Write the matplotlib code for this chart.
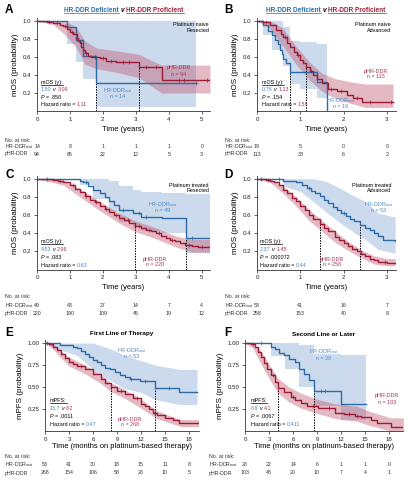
import matplotlib
matplotlib.use('Agg')
import matplotlib.pyplot as plt
import matplotlib.transforms as mtransforms
from matplotlib.lines import Line2D
from matplotlib import font_manager
import numpy as np

names = {f.name for f in font_manager.fontManager.ttflist}
if 'Liberation Sans Narrow' in names:
    FONT, K = 'Liberation Sans Narrow', 1.2
else:
    FONT, K = 'Liberation Sans', 1.0
plt.rcParams['font.family'] = [FONT, 'DejaVu Sans']
plt.rcParams['mathtext.fontset'] = 'custom'
plt.rcParams['mathtext.rm'] = FONT
plt.rcParams['mathtext.it'] = FONT + ':italic'
plt.rcParams['mathtext.bf'] = FONT + ':bold'

# ------------------------------------------------------------------ data
# Panel A (platinum naive, resected) - years
A_hr_t = [0, 0.92, 1.18, 1.40, 1.80, 4.84]
A_hr_s = [1.0, 0.93, 0.79, 0.61, 0.31, 0.31]
A_hr_band_t = [0, 0.92, 1.18, 1.40, 1.80, 4.84]
A_hr_band_lo = [1.0, 0.75, 0.55, 0.36, 0.04, 0.04]
A_hr_band_hi = [1.0, 1.0, 1.0, 1.0, 1.0, 1.0]
A_p_t = [0, 0.3, 0.5, 0.7, 0.8, 0.92, 1.0, 1.1, 1.2, 1.25, 1.3, 1.35, 1.4, 1.45,
         1.55, 1.65, 1.9, 2.1, 2.4, 3.09, 3.78, 5.25]
A_p_s = [1.0, 0.99, 0.98, 0.96, 0.94, 0.91, 0.88, 0.85, 0.81, 0.78, 0.75, 0.71, 0.68,
         0.64, 0.61, 0.60, 0.585, 0.56, 0.54, 0.49, 0.345, 0.345]
A_p_band_t = [0, 0.5, 0.9, 1.2, 1.45, 1.8, 2.4, 3.09, 3.78, 5.25]
A_p_band_hi = [1.0, 1.0, 0.99, 0.93, 0.78, 0.70, 0.67, 0.63, 0.51, 0.51]
A_p_band_lo = [1.0, 0.96, 0.83, 0.70, 0.52, 0.47, 0.43, 0.37, 0.20, 0.20]
A_hr_cens = [4.84]
A_p_cens = [0.35, 0.6, 0.85, 1.05, 1.22, 1.33, 1.5, 1.75, 2.0, 2.25, 2.6, 2.8, 3.3,
            3.6, 4.3, 4.45, 5.15]
A_med = [1.80, 3.09]
A_risk_x = [0, 1, 2, 3, 4, 5]
A_risk_hr = [14, 8, 1, 1, 1, 0]
A_risk_p = [94, 65, 22, 12, 5, 3]

# Panel B (platinum naive, advanced)
B_hr_t = [0, 0.13, 0.26, 0.34, 0.42, 0.48, 0.52, 0.57, 0.61, 0.67, 0.76, 1.38, 1.62]
B_hr_s = [1.0, 0.95, 0.89, 0.84, 0.79, 0.74, 0.68, 0.63, 0.58, 0.53, 0.43, 0.32, 0.0]
B_hr_band_t = [0, 0.13, 0.35, 0.6, 0.76, 1.0, 1.38, 1.62]
B_hr_band_hi = [1.0, 1.0, 1.0, 0.93, 0.78, 0.77, 0.74, 0.74]
B_hr_band_lo = [1.0, 0.85, 0.68, 0.50, 0.30, 0.25, 0.15, 0.15]
B_p_t = [0, 0.14, 0.30, 0.45, 0.55, 0.61, 0.70, 0.76, 0.85, 0.92, 1.0, 1.07, 1.13,
         1.22, 1.30, 1.38, 1.49, 1.65, 1.84, 2.07, 2.22, 2.42, 3.14]
B_p_s = [1.0, 0.99, 0.96, 0.90, 0.86, 0.82, 0.76, 0.71, 0.66, 0.62, 0.57, 0.53, 0.49,
         0.44, 0.40, 0.36, 0.31, 0.24, 0.22, 0.18, 0.15, 0.10, 0.10]
B_p_band_t = [0, 0.3, 0.6, 0.9, 1.2, 1.5, 1.8, 2.2, 2.5, 3.14]
B_p_band_hi = [1.0, 1.0, 0.92, 0.72, 0.55, 0.42, 0.36, 0.32, 0.30, 0.30]
B_p_band_lo = [1.0, 0.92, 0.72, 0.52, 0.35, 0.22, 0.14, 0.08, 0.04, 0.04]
B_hr_cens = []
B_p_cens = [0.2, 0.65, 0.95, 1.25, 1.7, 1.95, 2.3, 2.6, 3.1]
B_med = [0.76, 1.13]
B_risk_x = [0, 1, 2, 3]
B_risk_hr = [19, 5, 0, 0]
B_risk_p = [113, 33, 6, 2]

# Panel C (platinum treated, resected)
C_hr_t = [0, 1.30, 1.40, 1.55, 1.71, 1.91, 2.05, 2.2, 2.35, 2.5, 2.9, 3.17, 3.78, 4.53, 5.24]
C_hr_s = [1.0, 0.98, 0.96, 0.92, 0.88, 0.84, 0.80, 0.76, 0.71, 0.66, 0.62, 0.58, 0.57, 0.35, 0.35]
C_hr_band_t = [0, 1.3, 1.7, 2.2, 2.5, 2.9, 3.17, 3.78, 4.53, 5.24]
C_hr_band_hi = [1.0, 1.0, 1.0, 0.97, 0.92, 0.88, 0.85, 0.84, 0.83, 0.83]
C_hr_band_lo = [1.0, 0.93, 0.78, 0.63, 0.52, 0.47, 0.42, 0.40, 0.18, 0.18]
C_p_t = [0, 0.5, 0.65, 0.8, 1.0, 1.15, 1.3, 1.45, 1.6, 1.75, 1.9, 2.05, 2.2, 2.35, 2.5,
         2.65, 2.8, 2.96, 3.15, 3.3, 3.45, 3.6, 3.75, 3.9, 4.05, 4.2, 4.35, 4.5, 4.7, 4.9, 5.24]
C_p_s = [1.0, 0.99, 0.97, 0.96, 0.93, 0.89, 0.85, 0.81, 0.77, 0.74, 0.70, 0.67, 0.63,
         0.60, 0.57, 0.54, 0.51, 0.48, 0.46, 0.44, 0.42, 0.40, 0.37, 0.35, 0.33, 0.31,
         0.29, 0.27, 0.26, 0.25, 0.25]
C_p_band_t = [0, 0.8, 1.3, 1.9, 2.5, 2.96, 3.6, 4.2, 4.7, 5.24]
C_p_band_hi = [1.0, 0.99, 0.89, 0.75, 0.62, 0.54, 0.46, 0.37, 0.33, 0.33]
C_p_band_lo = [1.0, 0.93, 0.80, 0.65, 0.51, 0.42, 0.34, 0.25, 0.19, 0.19]
C_hr_cens = [1.5, 2.6, 3.1, 3.3, 4.7]
C_p_cens = [0.3, 0.7, 1.1, 1.5, 1.8, 2.1, 2.4, 2.75, 3.1, 3.4, 3.7, 4.1, 4.6, 5.0]
C_med = [4.53, 2.96]
C_risk_x = [0, 1, 2, 3, 4, 5]
C_risk_hr = [49, 43, 27, 14, 7, 4]
C_risk_p = [220, 190, 109, 45, 19, 12]

# Panel D (platinum treated, advanced)
D_hr_t = [0, 0.6, 0.9, 1.05, 1.15, 1.25, 1.35, 1.45, 1.55, 1.65, 1.75, 1.85, 1.95, 2.05,
          2.15, 2.25, 2.37, 2.5, 2.6, 2.7, 2.8, 2.9, 3.19]
D_hr_s = [1.0, 0.98, 0.96, 0.93, 0.90, 0.87, 0.84, 0.81, 0.77, 0.73, 0.69, 0.65, 0.62,
          0.59, 0.56, 0.53, 0.49, 0.46, 0.43, 0.40, 0.37, 0.33, 0.31]
D_hr_band_t = [0.6, 1.0, 1.3, 1.6, 1.9, 2.2, 2.5, 2.8, 3.19]
D_hr_band_hi = [1.0, 1.0, 1.0, 0.97, 0.90, 0.82, 0.75, 0.62, 0.58]
D_hr_band_lo = [0.92, 0.86, 0.75, 0.63, 0.52, 0.42, 0.33, 0.22, 0.18]
D_p_t = [0, 0.2, 0.3, 0.4, 0.5, 0.6, 0.7, 0.8, 0.9, 1.0, 1.1, 1.2, 1.3, 1.45, 1.55, 1.65,
         1.8, 1.9, 2.0, 2.1, 2.2, 2.3, 2.4, 2.5, 2.6, 2.7, 2.8, 2.9, 3.0, 3.19]
D_p_s = [1.0, 0.99, 0.98, 0.96, 0.93, 0.88, 0.84, 0.79, 0.75, 0.70, 0.65, 0.60, 0.56,
         0.50, 0.46, 0.42, 0.36, 0.33, 0.29, 0.26, 0.23, 0.20, 0.17, 0.15, 0.12, 0.10,
         0.085, 0.08, 0.075, 0.075]
D_p_band_t = [0, 0.3, 0.6, 0.9, 1.2, 1.45, 1.8, 2.1, 2.4, 2.7, 3.0, 3.19]
D_p_band_hi = [1.0, 1.0, 0.92, 0.80, 0.66, 0.56, 0.42, 0.31, 0.22, 0.15, 0.12, 0.12]
D_p_band_lo = [1.0, 0.96, 0.84, 0.70, 0.54, 0.44, 0.30, 0.21, 0.13, 0.06, 0.04, 0.04]
D_hr_cens = [0.5, 1.2, 2.0]
D_p_cens = [0.1, 0.25, 2.95]
D_med = [2.37, 1.45]
D_risk_x = [0, 1, 2, 3]
D_risk_hr = [53, 41, 16, 7]
D_risk_p = [258, 153, 40, 8]

# Panel E (first line) - months
E_hr_t = [0, 1.9, 3.5, 4.0, 4.5, 5.0, 5.5, 6.0, 6.5, 7.0, 7.5, 8.1, 8.7, 9.4, 10.0,
          10.6, 11.9, 13.7, 16.8, 19.0]
E_hr_s = [1.0, 0.98, 0.96, 0.94, 0.91, 0.87, 0.84, 0.81, 0.78, 0.75, 0.72, 0.70, 0.67,
          0.64, 0.61, 0.59, 0.57, 0.49, 0.44, 0.44]
E_hr_band_t = [0, 1.9, 4, 6, 8, 10, 12, 13.7, 16.8, 19.0]
E_hr_band_hi = [1.0, 1.0, 1.0, 1.0, 0.94, 0.86, 0.80, 0.75, 0.70, 0.70]
E_hr_band_lo = [1.0, 0.92, 0.86, 0.70, 0.58, 0.48, 0.44, 0.36, 0.30, 0.30]
E_p_t = [0, 0.5, 1.0, 1.5, 2.0, 2.5, 3.0, 3.5, 4.0, 5.0, 6.0, 7.0, 7.5, 8.2, 9.0, 10.0,
         11.0, 12.0, 12.5, 13.0, 13.5, 14.0, 15.0, 16.0, 16.8, 19.2]
E_p_s = [1.0, 0.99, 0.96, 0.92, 0.87, 0.83, 0.79, 0.76, 0.74, 0.70, 0.65, 0.59, 0.55,
         0.50, 0.46, 0.42, 0.37, 0.31, 0.28, 0.25, 0.21, 0.18, 0.15, 0.12, 0.09, 0.09]
E_p_band_t = [0, 1, 2, 3, 5, 7, 8.2, 10, 12, 14, 16, 17, 19.2]
E_p_band_hi = [1.0, 0.99, 0.91, 0.84, 0.75, 0.64, 0.55, 0.47, 0.36, 0.23, 0.16, 0.13, 0.13]
E_p_band_lo = [1.0, 0.93, 0.83, 0.74, 0.65, 0.54, 0.45, 0.37, 0.26, 0.14, 0.08, 0.05, 0.05]
E_hr_cens = [10.8, 12.5, 15.5]
E_p_cens = [0.3, 4.5, 9.5, 11.5]
E_med = [13.7, 8.2]
E_risk_x = [0, 3, 6, 9, 12, 15, 18]
E_risk_hr = [53, 41, 30, 18, 15, 11, 8]
E_risk_p = [268, 154, 106, 58, 28, 10, 5]

# Panel F (second line or later)
F_hr_t = [0, 3.2, 3.7, 4.3, 4.9, 5.5, 6.2, 6.8, 7.4, 8.0, 8.6, 12.0, 15.1]
F_hr_s = [1.0, 0.96, 0.93, 0.89, 0.86, 0.82, 0.78, 0.71, 0.65, 0.58, 0.46, 0.31, 0.31]
F_hr_band_t = [0, 3.2, 5, 6.8, 8.6, 12, 15.1]
F_hr_band_hi = [1.0, 1.0, 1.0, 0.98, 0.88, 0.86, 0.86]
F_hr_band_lo = [1.0, 0.85, 0.70, 0.50, 0.28, 0.13, 0.13]
F_p_t = [0, 0.75, 1.2, 1.6, 2.0, 2.4, 2.8, 3.2, 3.7, 4.1, 4.9, 5.7, 6.3, 7.0, 7.8, 9.1,
         11.3, 12.4, 13.8, 14.5, 15.7, 16.5, 18.2, 19.8]
F_p_s = [1.0, 0.99, 0.96, 0.90, 0.84, 0.77, 0.70, 0.64, 0.56, 0.49, 0.44, 0.39, 0.35,
         0.32, 0.28, 0.26, 0.21, 0.19, 0.17, 0.16, 0.12, 0.09, 0.045, 0.045]
F_p_band_t = [0, 1, 2, 3, 4.1, 5.5, 7, 9, 11.3, 14, 15.7, 18.2, 19.8]
F_p_band_hi = [1.0, 1.0, 0.91, 0.76, 0.60, 0.50, 0.43, 0.36, 0.31, 0.28, 0.22, 0.15, 0.15]
F_p_band_lo = [1.0, 0.94, 0.76, 0.60, 0.43, 0.33, 0.26, 0.20, 0.14, 0.11, 0.06, 0.0, 0.0]
F_hr_cens = [2.0, 9.5, 10.0]
F_p_cens = [1.0, 3.5, 6.0, 8.5, 10.5, 13.0, 14.0]
F_med = [8.6, 4.1]
F_risk_x = [0, 3, 6, 9, 12, 15, 18]
F_risk_hr = [28, 22, 14, 6, 1, 1, 0]
F_risk_p = [103, 48, 20, 10, 7, 4, 1]

# ------------------------------------------------------------------ style
BLUE = '#2d6aa6'
RED = '#9c1c33'
BLUE_BAND = '#7fa7d4'
RED_BAND = '#c0506a'
BLUE_T = '#4a86c5'
RED_T = '#a8334e'
GREY = '#333333'

FS_TICK = 4.4 * K
FS_XLAB = 5.4 * K
FS_YLAB = 5.8 * K
FS_ANN = 3.9 * K
FS_RISK = 3.8 * K
FS_TITLE = 4.7 * K
FS_SUB = 4.6 * K

W, H = 408, 480
fig = plt.figure(figsize=(W / 100, H / 100), dpi=100)
renderer = fig.canvas.get_renderer()
PT = 100 / 72.0


def text_w(s, fs, weight='normal', style='normal'):
    t = fig.text(0, 0, s, fontsize=fs, fontweight=weight, fontstyle=style)
    w = t.get_window_extent(renderer).width
    t.remove()
    return w


def rich(x, y, pieces, fs, ha='left', weight='normal', underline=()):
    sp = text_w('x x', fs, weight) - text_w('xx', fs, weight)
    items, total = [], 0.0
    for k, pc in enumerate(pieces):
        s, c = pc[0], pc[1]
        st = pc[2] if len(pc) > 2 else 'normal'
        lead = (len(s) - len(s.lstrip(' '))) * sp
        trail = (len(s) - len(s.rstrip(' '))) * sp
        core = s.strip(' ')
        w = text_w(core, fs, weight, st)
        items.append((lead, core, c, st, w, trail, k))
        total += lead + w + trail
    if ha == 'center':
        cx = x - total / 2
    elif ha == 'right':
        cx = x - total
    else:
        cx = x
    base = y + 0.36 * fs * PT
    for lead, core, c, st, w, trail, k in items:
        cx += lead
        fig.text(cx / W, 1 - base / H, core, fontsize=fs, color=c, fontstyle=st,
                 fontweight=weight, va='baseline', ha='left')
        if k in underline:
            uy = base + 0.13 * fs * PT
            fig.add_artist(Line2D([cx / W, (cx + w) / W], [1 - uy / H, 1 - uy / H],
                                  color=c, lw=0.5))
        cx += w + trail


def ftext(x, y, s, fs, color='k', ha='center', weight='normal'):
    fig.text(x / W, 1 - y / H, s, fontsize=fs, color=color, ha=ha, va='center',
             fontweight=weight)


def step_val(t, s, x, before=False):
    t = np.asarray(t)
    i = np.searchsorted(t, x, side='left' if before else 'right') - 1
    return s[max(i, 0)]


MUT = 'HR-DDR$_{\\mathrm{mut}}$'


def panel(box, xlim, xticks, yticks, yticklabels, ylabel, ylab_x,
          hr, p, med, cens, bands_step, xlabel, xlab_y, risk, risk_y, risk_lx):
    L, R, T, B = box
    ax = fig.add_axes([L / W, 1 - B / H, (R - L) / W, (B - T) / H])
    ax.set_xlim(*xlim)
    ax.set_ylim(0, 1.03)
    ax.set_facecolor('none')
    (hr_t, hr_s, hb_t, hb_lo, hb_hi), (p_t, p_s, pb_t, pb_lo, pb_hi) = hr, p
    ax.fill_between(hb_t, hb_lo, hb_hi, step='post' if bands_step[0] else None,
                    color=BLUE_BAND, alpha=0.4, lw=0, zorder=1)
    ax.fill_between(pb_t, pb_lo, pb_hi, step='post' if bands_step[1] else None,
                    color=RED_BAND, alpha=0.4, lw=0, zorder=1.1)
    for (t, s), m in zip([(hr_t, hr_s), (p_t, p_s)], med):
        top = step_val(t, s, m, before=True)
        ax.vlines(m, 0, top, colors='k', linestyles=(0, (1.5, 1.2)), lw=0.7, zorder=2.5)
    ax.step(hr_t, hr_s, where='post', color=BLUE, lw=1.0, zorder=3)
    ax.step(p_t, p_s, where='post', color=RED, lw=1.0, zorder=3.1)
    for (t, s), cs, col in zip([(hr_t, hr_s), (p_t, p_s)], cens, [BLUE, RED]):
        if cs:
            ys = [step_val(t, s, c) for c in cs]
            ax.plot(cs, ys, ls='none', marker='+', ms=2.2, mew=0.5, color=col, zorder=4)
    for sp in ['top', 'right']:
        ax.spines[sp].set_visible(False)
    for sp in ['left', 'bottom']:
        ax.spines[sp].set_linewidth(0.6)
        ax.spines[sp].set_color('#333333')
    ax.set_xticks(xticks)
    ax.set_xticklabels([str(v) for v in xticks])
    ax.set_yticks(yticks)
    ax.set_yticklabels(yticklabels)
    ax.tick_params(direction='out', length=2, width=0.5, labelsize=FS_TICK, pad=2,
                   colors='#222222')
    ax.set_ylabel(ylabel, fontsize=FS_YLAB)
    ax.yaxis.set_label_coords((ylab_x - L) / (R - L), 0.5)
    ftext((L + R) / 2, xlab_y, xlabel, FS_XLAB)
    # risk table
    rx, rhr, rp = risk
    ftext(risk_lx, risk_y[0], 'No. at risk:', FS_RISK, GREY, ha='left')
    ftext(risk_lx, risk_y[1], MUT, FS_RISK, GREY, ha='left')
    ftext(risk_lx, risk_y[2], 'pHR-DDR', FS_RISK, GREY, ha='left')
    tr = mtransforms.blended_transform_factory(ax.transData, fig.transFigure)
    for x, a, b in zip(rx, rhr, rp):
        ax.text(x, 1 - risk_y[1] / H, str(a), transform=tr, fontsize=FS_RISK, color=GREY,
                ha='center', va='center', clip_on=False)
        ax.text(x, 1 - risk_y[2] / H, str(b), transform=tr, fontsize=FS_RISK, color=GREY,
                ha='center', va='center', clip_on=False)
    return ax


def stats(x, ys, head, v1, v2, pval, hrv, hr_col):
    rich(x, ys[0], [(head, 'k')], FS_ANN, underline=(0,))
    rich(x, ys[1], [(v1, BLUE_T), (' v ', 'k', 'italic'), (v2, RED_T)], FS_ANN)
    rich(x, ys[2], [('P', 'k', 'italic'), (' = ' + pval, 'k')], FS_ANN)
    rich(x, ys[3], [('Hazard ratio = ', 'k'), (hrv, hr_col)], FS_ANN)


def labels(bx, by, bn, rx, ry, rn):
    ftext(bx, by, MUT, FS_ANN, BLUE_T)
    ftext(bx, by + 6, 'n = %d' % bn, FS_ANN, BLUE_T)
    ftext(rx, ry, 'pHR-DDR', FS_ANN, RED_T)
    ftext(rx, ry + 6, 'n = %d' % rn, FS_ANN, RED_T)


YT = [0.2, 0.4, 0.6, 0.8, 1.0]
YTL = ['0.2', '0.4', '0.6', '0.8', '1.0']
YT2 = [0.25, 0.5, 0.75, 1.0]
YTL2 = ['0.25', '0.50', '0.75', '1.00']

# ---- A
panel((37, 210, 18.3, 111), (0, 5.25), A_risk_x, YT, YTL, 'mOS (probability)', 19,
      (A_hr_t, A_hr_s, A_hr_band_t, A_hr_band_lo, A_hr_band_hi),
      (A_p_t, A_p_s, A_p_band_t, A_p_band_lo, A_p_band_hi),
      A_med, (A_hr_cens, A_p_cens), (True, False), 'Time (years)', 130,
      (A_risk_x, A_risk_hr, A_risk_p), (140, 147, 154), 5)
# ---- B
panel((257, 395.6, 18.3, 111), (0, 3.2), B_risk_x, YT, YTL, 'mOS (probability)', 239,
      (B_hr_t, B_hr_s, B_hr_band_t, B_hr_band_lo, B_hr_band_hi),
      (B_p_t, B_p_s, B_p_band_t, B_p_band_lo, B_p_band_hi),
      B_med, (B_hr_cens, B_p_cens), (True, False), 'Time (years)', 130,
      (B_risk_x, B_risk_hr, B_risk_p), (140, 147, 154), 224.5)
# ---- C
panel((37, 210, 176, 269.5), (0, 5.25), C_risk_x, YT, YTL, 'mOS (probability)', 19,
      (C_hr_t, C_hr_s, C_hr_band_t, C_hr_band_lo, C_hr_band_hi),
      (C_p_t, C_p_s, C_p_band_t, C_p_band_lo, C_p_band_hi),
      C_med, (C_hr_cens, C_p_cens), (True, False), 'Time (years)', 287.5,
      (C_risk_x, C_risk_hr, C_risk_p), (296.7, 305.5, 313.3), 5)
# ---- D
panel((257, 395.6, 176, 269.5), (0, 3.2), D_risk_x, YT, YTL, 'mOS (probability)', 239,
      (D_hr_t, D_hr_s, D_hr_band_t, D_hr_band_lo, D_hr_band_hi),
      (D_p_t, D_p_s, D_p_band_t, D_p_band_lo, D_p_band_hi),
      D_med, (D_hr_cens, D_p_cens), (False, False), 'Time (years)', 287.5,
      (D_risk_x, D_risk_hr, D_risk_p), (296.7, 305.5, 313.3), 224.5)
# ---- E
panel((45, 199.4, 340.4, 431), (0, 19.3), E_risk_x, YT2, YTL2, 'mPFS (probability)', 24,
      (E_hr_t, E_hr_s, E_hr_band_t, E_hr_band_lo, E_hr_band_hi),
      (E_p_t, E_p_s, E_p_band_t, E_p_band_lo, E_p_band_hi),
      E_med, (E_hr_cens, E_p_cens), (False, False), 'Time (months on platinum-based therapy)',
      447, (E_risk_x, E_risk_hr, E_risk_p), (457, 465, 473), 5)
# ---- F
panel((245, 403.4, 340.4, 431), (0, 19.8), F_risk_x, YT2, YTL2, 'mPFS (probability)', 224,
      (F_hr_t, F_hr_s, F_hr_band_t, F_hr_band_lo, F_hr_band_hi),
      (F_p_t, F_p_s, F_p_band_t, F_p_band_lo, F_p_band_hi),
      F_med, (F_hr_cens, F_p_cens), (True, False), 'Time (months on platinum-based therapy)',
      447, (F_risk_x, F_risk_hr, F_risk_p), (457, 465, 473), 209)

# panel letters
for lx, ly, s in [(5, 10, 'A'), (224, 10, 'B'), (5, 175, 'C'), (224, 175, 'D'),
                  (5, 333, 'E'), (224, 333, 'F')]:
    ftext(lx, ly, s, 8.5, 'k', ha='left', weight='bold')

# titles
for cx in (124, 326):
    rich(cx, 10, [('HR-DDR Deficient', '#2f6fad'), (' v ', 'k', 'italic'),
                  ('HR-DDR Proficient', '#a3213c')], FS_TITLE, ha='center',
         weight='bold', underline=(0, 2))
ftext(122, 334, 'First Line of Therapy', FS_SUB, 'k', weight='bold')
ftext(324, 334, 'Second Line or Later', FS_SUB, 'k', weight='bold')

# corner notes
for x, y, s1, s2 in [(209, 24, 'Platinum naive', 'Resected'),
                     (391, 24, 'Platinum naive', 'Advanced'),
                     (209, 185, 'Platinum treated', 'Resected'),
                     (391, 185, 'Platinum treated', 'Advanced')]:
    ftext(x, y, s1, FS_ANN, 'k', ha='right')
    ftext(x, y + 6, s2, FS_ANN, 'k', ha='right')

# curve labels
labels(118, 91, 14, 179, 68, 94)
labels(341, 101, 19, 376, 71, 113)
labels(163, 205, 49, 155, 259, 220)
labels(379, 205, 53, 332, 259, 258)
labels(132, 351, 53, 130, 419, 268)
labels(324, 352, 28, 387, 396, 103)

# stats boxes
stats(41, (82, 89.5, 97, 104.5), 'mOS (y):', '1.80', '3.09', '.850', '1.11', RED_T)
stats(262, (82, 89.5, 97, 104.5), 'mOS (y):', '0.76', '1.13', '.154', '1.58', RED_T)
stats(41, (241, 249, 257, 265.5), 'mOS (y):', '4.53', '2.96', '.083', '0.63', BLUE_T)
stats(260, (241, 249, 257, 265.5), 'mOS (y):', '2.37', '1.45', '.000072', '0.44', BLUE_T)
stats(50, (400, 408, 416.5, 424.5), 'mPFS:', '13.7', '8.2', '.0011', '0.47', BLUE_T)
stats(250.5, (400, 408, 416.5, 424.5), 'mPFS:', '8.6', '4.1', '.0067', '0.411', BLUE_T)

fig.savefig('out.png', dpi=100)
